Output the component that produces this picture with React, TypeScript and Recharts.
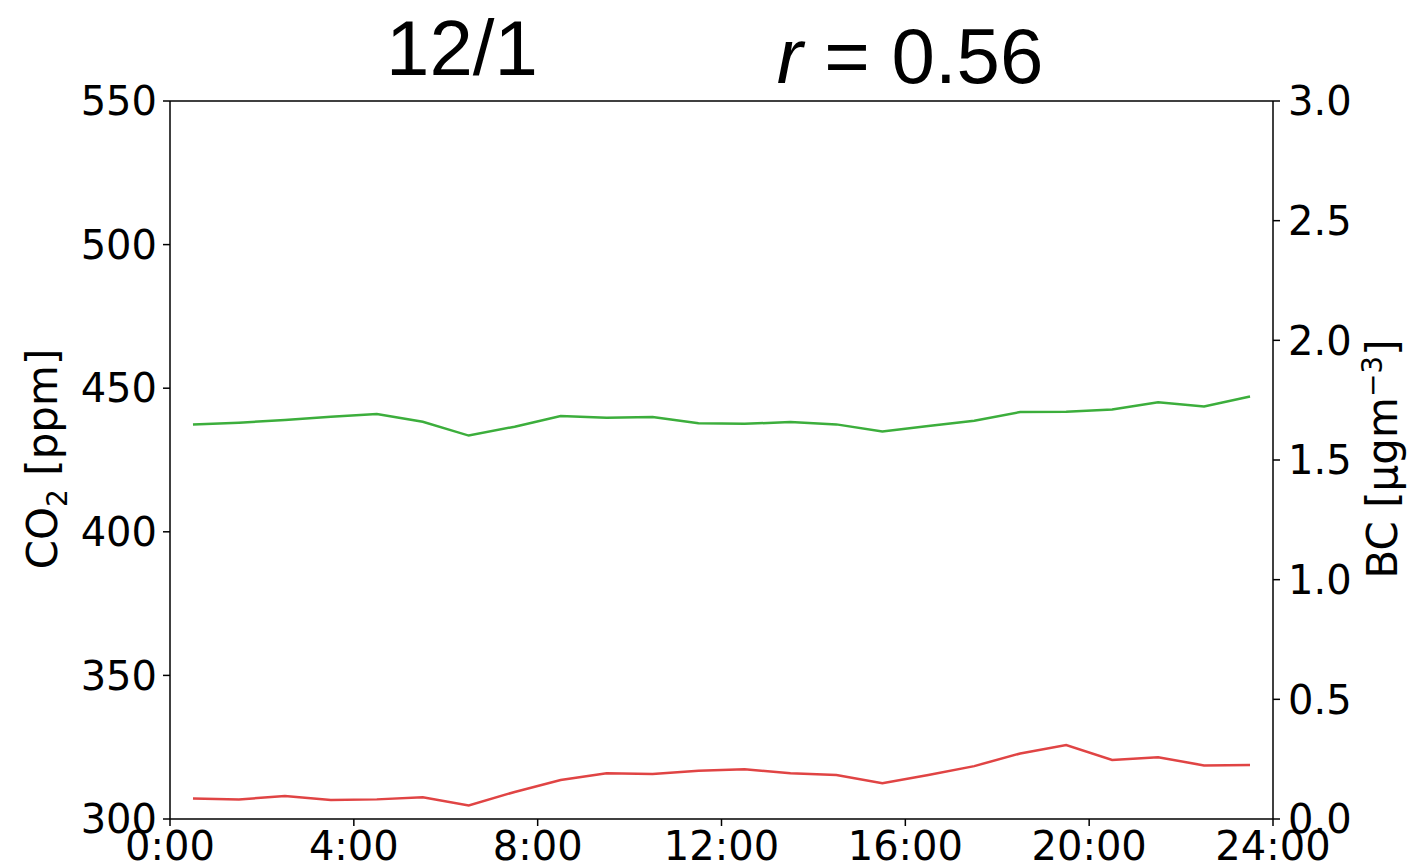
import { LineChart, Line, XAxis, YAxis, ReferenceLine } from "recharts";

// hourly means, plotted at the half hour
const hours = [0.5, 1.5, 2.5, 3.5, 4.5, 5.5, 6.5, 7.5, 8.5, 9.5, 10.5, 11.5, 12.5, 13.5, 14.5, 15.5, 16.5, 17.5, 18.5, 19.5, 20.5, 21.5, 22.5, 23.5];
const co2 = [437.4, 438.0, 438.9, 440.1, 441.0, 438.3, 433.5, 436.6, 440.3, 439.7, 440.0, 437.8, 437.6, 438.2, 437.4, 434.9, 436.8, 438.7, 441.7, 441.8, 442.6, 445.1, 443.6, 447.1];
const bc = [0.086, 0.082, 0.096, 0.079, 0.082, 0.091, 0.057, 0.113, 0.163, 0.191, 0.188, 0.202, 0.208, 0.191, 0.184, 0.149, 0.184, 0.221, 0.274, 0.309, 0.247, 0.258, 0.224, 0.226];

const xTicks = [0, 4, 8, 12, 16, 20, 24];
const co2Ticks = [300, 350, 400, 450, 500, 550];
const bcTicks = [0, 0.5, 1, 1.5, 2, 2.5, 3];

const data = hours.map((h, i) => ({ hour: h, co2: co2[i], bc: bc[i] }));

const tickFont = { fill: "#000", fontSize: 40, fontFamily: "DejaVu Sans" };
const axisStroke = { stroke: "#000", strokeWidth: 1.5 };
const titleFont = "Liberation Sans, Arial, sans-serif";

export default function App() {
  return (
    <div style={{ position: "absolute", left: 0, top: 0, width: 1407, height: 867, background: "#fff", overflow: "hidden" }}>
      <LineChart width={1407} height={867} data={data} margin={{ top: 101, right: 54, bottom: 8, left: 90 }}>
        <XAxis
          dataKey="hour"
          type="number"
          domain={[0, 24]}
          ticks={xTicks}
          interval={0}
          tickFormatter={(v: number) => `${v}:00`}
          height={40}
          tick={tickFont}
          tickSize={7}
          tickMargin={6}
          axisLine={axisStroke}
          tickLine={axisStroke}
        />
        <YAxis
          yAxisId="left"
          domain={[300, 550]}
          ticks={co2Ticks}
          interval={0}
          width={80}
          tick={tickFont}
          tickSize={7}
          tickMargin={6}
          axisLine={axisStroke}
          tickLine={axisStroke}
        />
        <YAxis
          yAxisId="right"
          orientation="right"
          domain={[0, 3]}
          ticks={bcTicks}
          interval={0}
          width={80}
          tickFormatter={(v: number) => v.toFixed(1)}
          tick={tickFont}
          tickSize={7}
          tickMargin={8}
          axisLine={axisStroke}
          tickLine={axisStroke}
        />
        <ReferenceLine yAxisId="left" y={550} stroke="#000" strokeWidth={1.5} />
        <Line yAxisId="left" dataKey="co2" stroke="#3cae3c" strokeWidth={2.5} dot={false} isAnimationActive={false} />
        <Line yAxisId="right" dataKey="bc" stroke="#e04444" strokeWidth={2.5} dot={false} isAnimationActive={false} />
      </LineChart>

      <div style={{ position: "absolute", left: 462, top: 48, transform: "translate(-50%, -50%)", fontFamily: titleFont, fontSize: 78, color: "#000", whiteSpace: "nowrap", lineHeight: 1 }}>
        12/1
      </div>
      <div style={{ position: "absolute", left: 910, top: 56, transform: "translate(-50%, -50%)", fontFamily: titleFont, fontSize: 78, color: "#000", whiteSpace: "nowrap", lineHeight: 1 }}>
        <i>r</i> = 0.56
      </div>

      <div style={{ position: "absolute", left: 47, top: 459, transform: "translate(-50%, -50%) rotate(-90deg)", fontFamily: "DejaVu Sans", fontSize: 42, color: "#000", whiteSpace: "nowrap", lineHeight: 1 }}>
        CO<sub style={{ fontSize: 28 }}>2</sub> [ppm]
      </div>
      <div style={{ position: "absolute", left: 1381, top: 459, transform: "translate(-50%, -50%) rotate(-90deg)", fontFamily: "DejaVu Sans", fontSize: 42, color: "#000", whiteSpace: "nowrap", lineHeight: 1 }}>
        BC [μgm<sup style={{ fontSize: 28 }}>−3</sup>]
      </div>
    </div>
  );
}
